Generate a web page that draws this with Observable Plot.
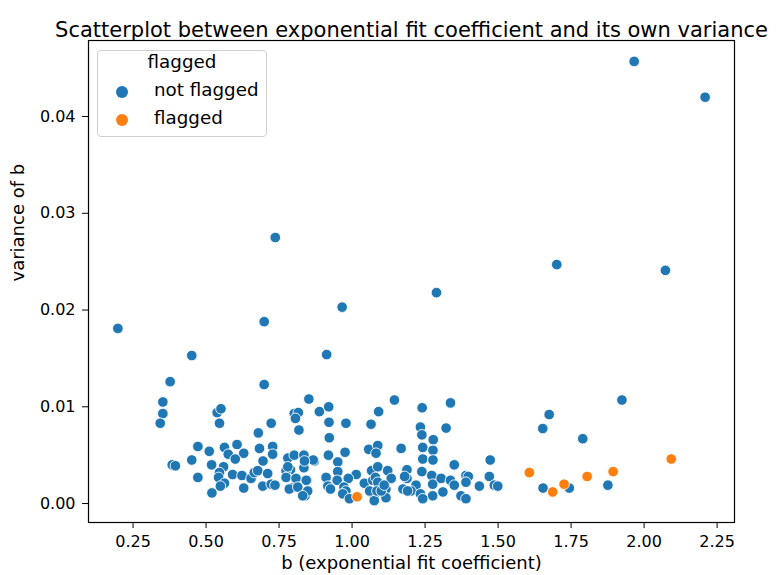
<!DOCTYPE html>
<html>
<head>
<meta charset="utf-8">
<script src="https://cdn.jsdelivr.net/npm/d3@7"></script>
<script src="https://cdn.jsdelivr.net/npm/@observablehq/plot@0.6"></script>
<style>
  html, body { margin: 0; padding: 0; background: #fff; }
  #wrap { position: relative; width: 779px; height: 575px; font-family: "DejaVu Sans", sans-serif; }
  #legend { position: absolute; left: 97px; top: 50px; width: 170px; height: 87px; box-sizing: border-box;
            border: 1px solid #d0d0d0; border-radius: 4px; background: rgba(255,255,255,0.8); font-size: 18.3px; color: #000; }
  #legend div { line-height: normal; }
  #legend .t { position: absolute; left: 0; width: 100%; text-align: center; }
  #legend .sw { position: absolute; width: 12px; height: 12px; border-radius: 50%; left: 18px; }
  #legend .lb { position: absolute; left: 56px; white-space: nowrap; }
</style>
</head>
<body>
<div id="wrap"></div>
<script>
// ---- data ----
const title = "Scatterplot between exponential fit coefficient and its own variance";
const xLabel = "b (exponential fit coefficient)";
const yLabel = "variance of b";
const legendTitle = "flagged";
const seriesNames = ["not flagged", "flagged"];
const seriesColors = ["#1f77b4", "#ff7f0e"];
const xTicks = [0.25, 0.5, 0.75, 1.0, 1.25, 1.5, 1.75, 2.0, 2.25];
const yTicks = [0.0, 0.01, 0.02, 0.03, 0.04];

const notFlaggedB = [
  1.966, 2.209, 0.737, 1.701, 2.073, 1.289, 0.966, 0.699, 0.198, 0.451, 0.913, 0.377, 0.699,
  1.924, 1.675, 1.653, 1.790, 1.654, 1.744, 1.876,
  0.352, 0.352, 0.343, 0.538, 0.551, 0.546, 0.723, 0.802, 0.816, 0.806, 0.818, 0.679, 0.852,
  0.472, 0.511, 0.563, 0.606, 0.629, 0.576, 0.600, 0.683, 0.728, 0.728, 0.695,
  0.451, 0.384, 0.395, 0.519, 0.560, 0.546, 0.591, 0.623, 0.472, 0.543,
  0.654, 0.665, 0.677, 0.711, 0.780, 0.802, 0.835, 0.789, 0.835, 0.774, 0.774, 0.808, 0.846, 0.780,
  0.563, 0.549, 0.694, 0.723, 0.736, 0.629, 0.793, 0.785, 0.814, 0.520, 0.839,
  0.888, 0.920, 0.921, 0.979, 0.922, 0.976, 0.871, 0.867, 0.919, 0.951, 0.837,
  0.911, 0.951, 0.848, 0.917, 0.926, 1.014, 0.987, 0.949, 0.972, 0.979, 0.968, 0.991, 1.042, 0.843, 0.831,
  1.065, 1.091, 1.057, 1.088, 1.082, 1.067, 1.088, 1.071, 1.122, 1.134, 1.116, 1.076, 1.076, 1.116,
  1.080, 1.088, 1.060, 1.085, 1.100, 1.110,
  1.145, 1.168, 1.188, 1.188, 1.174, 1.219, 1.202,
  1.240, 1.234, 1.239, 1.278, 1.242, 1.277, 1.242, 1.277, 1.239, 1.273, 1.276, 1.276, 1.311, 1.305,
  1.234, 1.242, 1.180, 1.190,
  1.337, 1.322, 1.350, 1.337, 1.350,
  1.390, 1.398, 1.390, 1.373, 1.390,
  1.436, 1.473, 1.470, 1.487, 1.499
];
const notFlaggedVar = [
  0.0457, 0.0420, 0.0275, 0.0247, 0.0241, 0.0218, 0.0203, 0.0188, 0.0181, 0.0153, 0.0154, 0.0126, 0.0123,
  0.0107, 0.0092, 0.00775, 0.0067, 0.0016, 0.0016, 0.0019,
  0.0105, 0.0093, 0.0083, 0.0094, 0.0098, 0.0083, 0.0083, 0.0093, 0.0094, 0.0088, 0.0076, 0.0073, 0.0108,
  0.0059, 0.0054, 0.0058, 0.0061, 0.0052, 0.0051, 0.0046, 0.0057, 0.0059, 0.0051, 0.0044,
  0.0045, 0.0040, 0.0039, 0.0040, 0.0038, 0.0032, 0.0030, 0.0029, 0.0027, 0.0027,
  0.0026, 0.0032, 0.0034, 0.0031, 0.0047, 0.0050, 0.0050, 0.0035, 0.0037, 0.0034, 0.0027, 0.0026, 0.0024, 0.0038,
  0.0021, 0.0018, 0.0018, 0.0020, 0.0019, 0.0016, 0.0016, 0.0015, 0.0017, 0.0011, 0.0008,
  0.0095, 0.0100, 0.0084, 0.0083, 0.0068, 0.0053, 0.0044, 0.0045, 0.0050, 0.0043, 0.0044,
  0.0027, 0.0033, 0.0013, 0.0018, 0.0015, 0.0030, 0.0026, 0.0024, 0.0017, 0.0013, 0.0010, 0.0005, 0.0021, 0.0024, 0.0008,
  0.0082, 0.0095, 0.0056, 0.0060, 0.0052, 0.0034, 0.0038, 0.0024, 0.0034, 0.0026, 0.0015, 0.0007, 0.0003, 0.0006,
  0.0027, 0.0022, 0.0013, 0.0013, 0.0013, 0.0019,
  0.0107, 0.0057, 0.0035, 0.0026, 0.0015, 0.0019, 0.0013,
  0.0099, 0.0079, 0.0071, 0.0066, 0.0058, 0.0055, 0.0046, 0.0045, 0.0033, 0.0029, 0.0020, 0.0008, 0.0012, 0.0026,
  0.0010, 0.0005, 0.0028, 0.0013,
  0.0104, 0.0078, 0.0040, 0.0024, 0.0019,
  0.0029, 0.0028, 0.0022, 0.0008, 0.0005,
  0.0018, 0.0045, 0.0028, 0.0019, 0.0018
];
const flaggedB = [1.017, 1.607, 1.687, 1.726, 1.805, 1.894, 2.093];
const flaggedVar = [0.0007, 0.0032, 0.0012, 0.0020, 0.0028, 0.0033, 0.0046];

// ---- build table ----
const rows = [
  ...notFlaggedB.map((b, i) => ({b, v: notFlaggedVar[i], flagged: seriesNames[0]})),
  ...flaggedB.map((b, i) => ({b, v: flaggedVar[i], flagged: seriesNames[1]}))
];

const font = "DejaVu Sans, sans-serif";
const chart = Plot.plot({
  width: 779,
  height: 575,
  marginLeft: 88,
  marginRight: 45,
  marginTop: 40,
  marginBottom: 53,
  style: {fontFamily: font, fontSize: "16px", color: "#000", background: "#fff", overflow: "visible"},
  x: {domain: [0.0974, 2.3096], ticks: xTicks, tickFormat: ".2f"},
  y: {domain: [-0.00196, 0.04786], ticks: yTicks, tickFormat: ".2f"},
  color: {domain: seriesNames, range: seriesColors},
  marks: [
    Plot.dot(rows, {x: "b", y: "v", fill: "flagged", r: 5.3, stroke: "white", strokeWidth: 0.9}),
    Plot.frame({stroke: "#000", strokeWidth: 1.2}),
    Plot.axisX({ticks: xTicks, tickFormat: ".2f", tickSize: 6, tickPadding: 7.5, label: null, stroke: "#000", fontSize: 16}),
    Plot.axisY({ticks: yTicks, tickFormat: ".2f", tickSize: 6, tickPadding: 7, label: null, stroke: "#000", fontSize: 16}),
    Plot.text([xLabel], {frameAnchor: "bottom", dy: 46.5, fontSize: 18, fill: "#000"}),
    Plot.text([yLabel], {frameAnchor: "left", dx: -70, rotate: -90, fontSize: 18, fill: "#000"}),
    Plot.text([title], {frameAnchor: "top", dy: -18.5, fontSize: 21, fill: "#000"})
  ]
});
const wrap = document.getElementById("wrap");
wrap.appendChild(chart);

// legend overlay
const lg = document.createElement("div");
lg.id = "legend";
let html = `<div class="t" style="top:0px">${legendTitle}</div>`;
seriesNames.forEach((n, i) => {
  const top = 28 + i * 28;
  html += `<div class="sw" style="top:${top + 6.5}px;background:${seriesColors[i]}"></div>`;
  html += `<div class="lb" style="top:${top}px">${n}</div>`;
});
lg.innerHTML = html;
wrap.appendChild(lg);
</script>
</body>
</html>
